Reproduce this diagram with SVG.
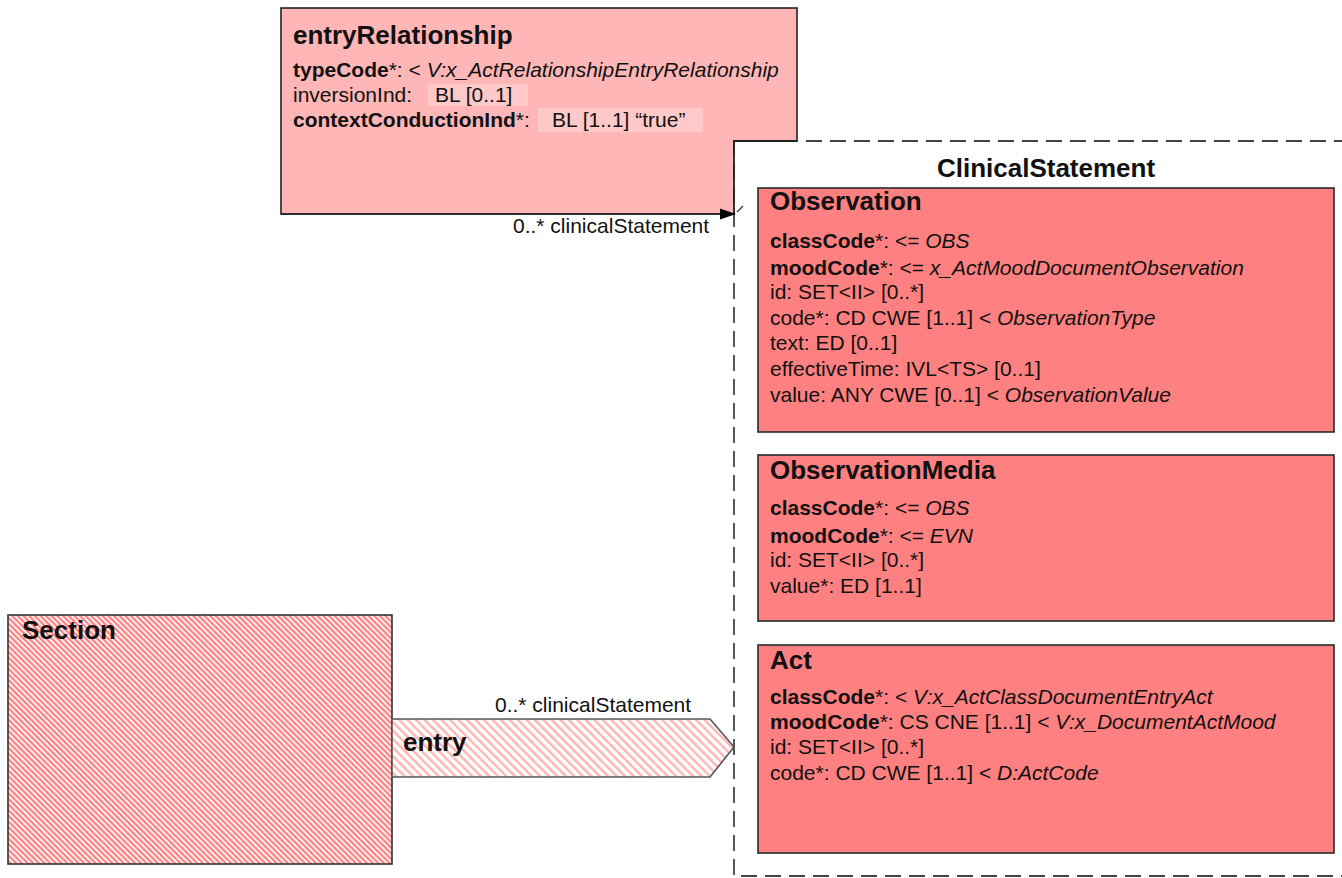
<svg xmlns="http://www.w3.org/2000/svg" width="1342" height="878" viewBox="0 0 1342 878">
<style>
.t{font-family:"Liberation Sans",Arial,sans-serif;font-size:21px;fill:#111}
.b{font-weight:bold}
.i{font-style:italic}
.h{font-family:"Liberation Sans",Arial,sans-serif;font-size:26px;font-weight:bold;fill:#111}
.cls{fill:#FF8080;stroke:#2a2a2a;stroke-width:1.6}
.frame{fill:#fff;stroke:#444;stroke-width:1.8;stroke-dasharray:16 8}
</style>
<defs>
<pattern id="hatch" width="4" height="4" patternUnits="userSpaceOnUse" patternTransform="rotate(-45)">
<rect width="4" height="4" fill="#fff"/>
<rect width="2.3" height="4" fill="#FF8080"/>
</pattern>
<pattern id="hatch2" width="6" height="6" patternUnits="userSpaceOnUse" patternTransform="rotate(-45)">
<rect width="6" height="6" fill="#fff"/>
<rect width="2.4" height="6" fill="#FFB3B3"/>
</pattern>
<marker id="arr" markerWidth="16" markerHeight="14" refX="15" refY="7" orient="auto" markerUnits="userSpaceOnUse">
<path d="M0,1.5 L16,7 L0,12.5 Z" fill="#000"/>
</marker>
</defs>

<g id="entryRelationship">
<rect x="281" y="8" width="516" height="206" fill="#FFB6B6" stroke="#222" stroke-width="1.6"/>
<text class="h" x="293" y="44">entryRelationship</text>
<text class="t" x="293" y="77"><tspan class="b">typeCode</tspan>*: &lt; <tspan class="i">V:x_ActRelationshipEntryRelationship</tspan></text>
<rect x="428" y="84" width="100" height="22" fill="#FFC9C9"/>
<text class="t" x="293" y="102">inversionInd:</text>
<text class="t" x="435" y="102">BL [0..1]</text>
<rect x="538" y="108" width="165" height="24" fill="#FFC9C9"/>
<text class="t" x="293" y="127"><tspan class="b">contextConductionInd</tspan>*:</text>
<text class="t" x="552" y="127">BL [1..1] “true”</text>
</g>

<g id="ClinicalStatement">
<rect class="frame" x="734" y="141" width="640" height="735"/>
<path d="M734,214 V141 H797" fill="none" stroke="#222" stroke-width="1.8"/>
<text class="h" x="1046" y="177" text-anchor="middle">ClinicalStatement</text>
</g>

<g id="Observation">
<rect class="cls" x="758" y="188" width="576" height="244"/>
<text class="h" x="770" y="210">Observation</text>
<text class="t" x="770" y="248"><tspan class="b">classCode</tspan>*: &lt;= <tspan class="i">OBS</tspan></text>
<text class="t" x="770" y="275"><tspan class="b">moodCode</tspan>*: &lt;= <tspan class="i">x_ActMoodDocumentObservation</tspan></text>
<text class="t" x="770" y="299">id: SET&lt;II&gt; [0..*]</text>
<text class="t" x="770" y="325">code*: CD CWE [1..1] &lt; <tspan class="i">ObservationType</tspan></text>
<text class="t" x="770" y="350">text: ED [0..1]</text>
<text class="t" x="770" y="376">effectiveTime: IVL&lt;TS&gt; [0..1]</text>
<text class="t" x="770" y="402">value: ANY CWE [0..1] &lt; <tspan class="i">ObservationValue</tspan></text>
</g>

<g id="ObservationMedia">
<rect class="cls" x="758" y="455" width="576" height="166"/>
<text class="h" x="770" y="479">ObservationMedia</text>
<text class="t" x="770" y="515"><tspan class="b">classCode</tspan>*: &lt;= <tspan class="i">OBS</tspan></text>
<text class="t" x="770" y="543"><tspan class="b">moodCode</tspan>*: &lt;= <tspan class="i">EVN</tspan></text>
<text class="t" x="770" y="567">id: SET&lt;II&gt; [0..*]</text>
<text class="t" x="770" y="593">value*: ED [1..1]</text>
</g>

<g id="Act">
<rect class="cls" x="758" y="645" width="576" height="208"/>
<text class="h" x="770" y="669">Act</text>
<text class="t" x="770" y="704"><tspan class="b">classCode</tspan>*: &lt; <tspan class="i">V:x_ActClassDocumentEntryAct</tspan></text>
<text class="t" x="770" y="729"><tspan class="b">moodCode</tspan>*: CS CNE [1..1] &lt; <tspan class="i">V:x_DocumentActMood</tspan></text>
<text class="t" x="770" y="754">id: SET&lt;II&gt; [0..*]</text>
<text class="t" x="770" y="780">code*: CD CWE [1..1] &lt; <tspan class="i">D:ActCode</tspan></text>
</g>

<g id="Section">
<rect x="8" y="615" width="384" height="249" fill="url(#hatch)" stroke="#333" stroke-width="1.6"/>
<text class="h" x="22" y="639">Section</text>
</g>

<g id="connectors">
<line x1="281" y1="214" x2="735" y2="214" stroke="#222" stroke-width="1.6" marker-end="url(#arr)"/>
<line x1="737" y1="212" x2="743" y2="206" stroke="#333" stroke-width="1.2"/>
<text class="t" x="513" y="233">0..* clinicalStatement</text>
<g id="entry">
<polygon points="392,719 710,719 734,747 710,777 392,777" fill="url(#hatch2)" stroke="#555" stroke-width="1.6"/>
<text class="h" x="403" y="751">entry</text>
</g>
<text class="t" x="495" y="712">0..* clinicalStatement</text>
</g>
</svg>
